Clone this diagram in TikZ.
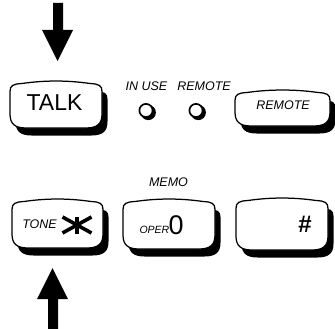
\documentclass[tikz,border=0pt]{standalone}
\usepackage{fontspec}
\setmainfont{Liberation Sans}
\newcommand{\capkey}[4]{%
  \pgfmathsetmacro\kxa{#1}\pgfmathsetmacro\kya{#2}%
  \pgfmathsetmacro\kxb{#3}\pgfmathsetmacro\kyb{#4}%
  \path[keyshadow] \capoutline;
  \path[keyface] \capoutline;
}
\newcommand{\capoutline}{%
  (\kxa,{\kya+8})
  .. controls (\kxa,{\kya+2}) and ({\kxa+3},{\kya+0.5}) .. ({\kxa+12},\kya)
  .. controls ({\kxa+35},{\kya-3.3}) and ({\kxb-35},{\kya-3.3}) .. ({\kxb-12},\kya)
  .. controls ({\kxb-3},{\kya+0.5}) and (\kxb,{\kya+2}) .. (\kxb,{\kya+8})
  -- (\kxb,{\kyb-14})
  .. controls (\kxb,{\kyb-4}) and ({\kxb-5},\kyb) .. ({\kxb-16},\kyb)
  -- ({\kxa+16},\kyb)
  .. controls ({\kxa+5},\kyb) and (\kxa,{\kyb-4}) .. (\kxa,{\kyb-14})
  -- cycle}
\begin{document}
\begin{tikzpicture}[x=1pt,y=-1pt,
  keyshadow/.style={fill=black, shift={(5.5,7.5)}},
  keyface/.style={draw=black, fill=white, line width=1.25pt},
  lbl/.style={inner sep=0pt, anchor=base, font=\fontsize{12.5}{13}\selectfont\itshape},
  ledshadow/.style={fill=black},
  ledring/.style={draw=black, fill=white, line width=1.7pt},
  blockarrow/.style={fill=black}]
\useasboundingbox (0,0) rectangle (335,329);
% arrows
\fill[blockarrow] (53,3) -- (63,3) -- (63,30) -- (73,30) -- (57.5,61) -- (42,30) -- (53,30) -- cycle;
\fill[blockarrow] (48,329) -- (58,329) -- (58,299) -- (68,299) -- (52.5,268) -- (37,299) -- (48,299) -- cycle;
% keys
\capkey{10}{83.5}{102}{128}
\capkey{235}{92.5}{330}{126}
\capkey{12}{201.5}{103}{248}
\capkey{123}{201.5}{215}{249}
\capkey{236}{200.5}{328}{250}
% LEDs
\fill[ledshadow] (148.3,112.5) circle (7.6);
\draw[ledring] (146,110.5) circle (6.6);
\fill[ledshadow] (198.3,112.5) circle (7.6);
\draw[ledring] (196,110.5) circle (6.6);
% texts
\node[inner sep=0pt, anchor=base, font=\fontsize{23}{23}\selectfont] (talk) at (54.5,110.8) {TALK};
\node[lbl] (inuse) at (146.5,91) {IN USE};
\node[lbl] (remotelbl) at (204,91) {REMOTE};
\node[lbl] (remotekey) at (283,109.3) {REMOTE};
\node[lbl] (tone) at (39.5,228.3) {TONE};
\node[lbl] (memo) at (168.5,186.7) {MEMO};
\node[inner sep=0pt, anchor=base east, font=\fontsize{10.5}{11}\selectfont\itshape] (oper) at (169.5,233) {OPER};
\node[inner sep=0pt, anchor=base west, font=\fontsize{27}{27}\selectfont] (zero) at (168.5,234.5) {0};
\node[inner sep=0pt, anchor=base, font=\fontsize{24}{24}\selectfont\bfseries] (hash) at (305,232) {\#};
% asterisk
\coordinate (star) at (77,225);
\draw[line width=3.6pt] ([yshift=-8.5pt]star) -- ([yshift=8.5pt]star);
\draw[line width=3.6pt] ([shift={(-14.5,-8)}]star) -- ([shift={(14.5,8)}]star);
\draw[line width=3.6pt] ([shift={(-14.5,8)}]star) -- ([shift={(14.5,-8)}]star);
\end{tikzpicture}
\end{document}
